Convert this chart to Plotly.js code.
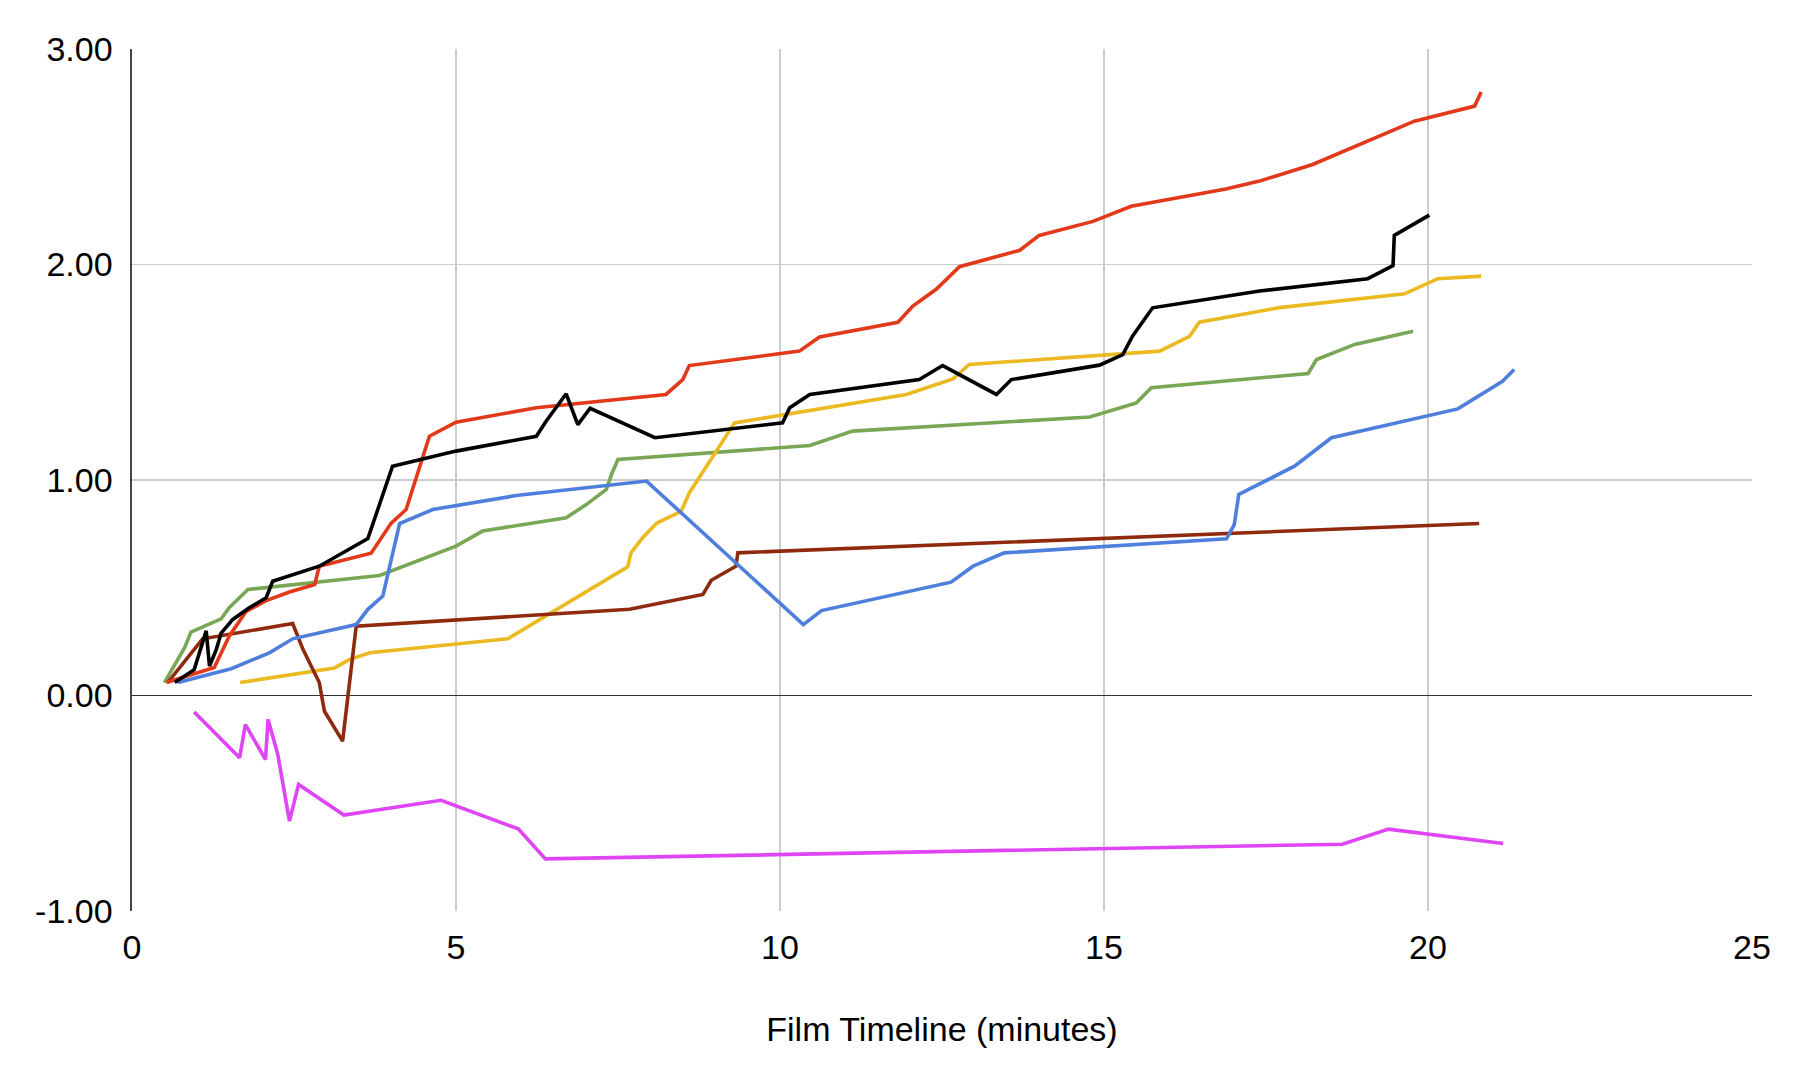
<!DOCTYPE html>
<html>
<head>
<meta charset="utf-8">
<script src="https://cdn.plot.ly/plotly-3.0.1.min.js"></script>
<style>html,body{margin:0;padding:0;background:#fff;}#chart{width:1801px;height:1075px;}</style>
</head>
<body>
<div id="chart"></div>
<script>
// Series values (x = minutes, y = value)
const greenX = [0.50,0.81,0.91,1.376,1.50,1.79,3.82,5.0,5.41,6.70,7.01,7.32,7.40,7.50,10.46,11.12,14.78,15.50,15.73,18.15,18.28,18.87,19.77];
const greenY = [0.06,0.221,0.294,0.356,0.407,0.492,0.557,0.693,0.763,0.825,0.886,0.956,1.026,1.095,1.16,1.227,1.292,1.358,1.428,1.494,1.559,1.629,1.69];

const yellowX = [1.67,3.125,3.36,3.67,5.80,7.65,7.70,7.88,8.10,8.475,8.60,9.30,11.95,12.67,12.92,15.86,16.32,16.47,17.71,19.64,20.15,20.82];
const yellowY = [0.06,0.128,0.167,0.198,0.263,0.597,0.662,0.732,0.80,0.855,0.94,1.265,1.397,1.469,1.536,1.598,1.667,1.732,1.80,1.864,1.934,1.946];

const brownX = [0.55,1.09,2.48,2.64,2.89,2.97,3.25,3.46,7.68,8.81,8.94,9.32,9.35,20.79];
const brownY = [0.06,0.263,0.334,0.213,0.06,-0.073,-0.212,0.322,0.40,0.469,0.535,0.60,0.662,0.798];

const blueX = [0.71,1.53,2.12,2.48,3.46,3.64,3.87,4.13,4.64,5.93,7.94,10.36,10.64,12.64,12.98,13.46,16.89,17.01,17.08,17.94,18.51,20.46,21.15,21.33];
const blueY = [0.06,0.124,0.198,0.263,0.329,0.40,0.461,0.798,0.863,0.928,0.995,0.329,0.394,0.526,0.60,0.662,0.727,0.793,0.933,1.064,1.196,1.33,1.458,1.513];

const redX = [0.53,1.27,1.50,1.76,2.07,2.43,2.82,2.89,3.69,4.0,4.23,4.59,5.0,6.24,8.24,8.50,8.60,10.30,10.61,11.82,12.05,12.41,12.77,13.70,14.0,14.83,15.42,16.88,17.40,18.22,19.79,20.72,20.82];
const redY = [0.06,0.13,0.275,0.39,0.44,0.48,0.515,0.60,0.66,0.80,0.863,1.203,1.268,1.335,1.397,1.466,1.531,1.598,1.664,1.732,1.807,1.885,1.99,2.066,2.135,2.20,2.27,2.35,2.387,2.464,2.665,2.735,2.80];

const blackX = [0.66,0.96,1.145,1.196,1.30,1.376,1.556,1.81,2.07,2.17,2.89,3.20,3.64,4.02,5.0,6.24,6.39,6.70,6.88,7.07,8.07,10.04,10.15,10.46,12.15,12.51,13.34,13.57,14.93,15.29,15.44,15.75,17.40,19.07,19.46,19.48,20.02];
const blackY = [0.06,0.12,0.30,0.136,0.213,0.29,0.353,0.407,0.453,0.53,0.60,0.654,0.728,1.064,1.134,1.203,1.273,1.40,1.257,1.333,1.196,1.265,1.335,1.397,1.466,1.531,1.397,1.466,1.533,1.582,1.667,1.799,1.877,1.934,1.995,2.135,2.229];

const magentaX = [0.96,1.66,1.75,2.06,2.10,2.25,2.43,2.57,3.27,4.77,5.96,6.38,18.68,19.39,21.16];
const magentaY = [-0.077,-0.289,-0.135,-0.297,-0.111,-0.274,-0.583,-0.413,-0.555,-0.486,-0.619,-0.758,-0.69,-0.62,-0.687];

const xTicks = [0,5,10,15,20,25];
const yTicks = [-1,0,1,2,3];
const xTitle = 'Film Timeline (minutes)';

const series = [
  {x: greenX, y: greenY, color: '#79a755'},
  {x: yellowX, y: yellowY, color: '#ebb920'},
  {x: brownX, y: brownY, color: '#8f2a0f'},
  {x: blueX, y: blueY, color: '#4f7fdc'},
  {x: redX, y: redY, color: '#e1391a'},
  {x: blackX, y: blackY, color: '#000000'},
  {x: magentaX, y: magentaY, color: '#df44f5'}
];

const traces = series.map(s => ({
  type: 'scatter', mode: 'lines', x: s.x, y: s.y,
  line: {color: s.color, width: 3.6},
  hoverinfo: 'skip'
}));

const font = {family: '"Liberation Sans", Arial, sans-serif', size: 34, color: '#000'};

const layout = {
  width: 1801, height: 1075,
  margin: {l: 132, r: 49, t: 49, b: 164, pad: 0},
  paper_bgcolor: '#fff', plot_bgcolor: '#fff',
  showlegend: false,
  font: font,
  xaxis: {
    range: [0, 25], tickvals: xTicks, ticktext: xTicks.map(String),
    showgrid: true, gridcolor: '#cccccc', gridwidth: 1.8,
    zeroline: false, showline: false, ticks: '',
    ticklabelstandoff: 13,
    tickfont: font, automargin: false,
    title: {text: xTitle, font: {family: font.family, size: 34, color: '#000'}, standoff: 52}
  },
  yaxis: {
    range: [-1, 3], tickvals: yTicks, ticktext: yTicks.map(v => v.toFixed(2)),
    showgrid: true, gridcolor: '#cccccc', gridwidth: 1.8,
    zeroline: true, zerolinecolor: '#333333', zerolinewidth: 1.6,
    showline: true, linecolor: '#444444', linewidth: 1.6,
    ticks: '', ticklabelstandoff: 11,
    tickfont: font, automargin: false
  }
};

Plotly.newPlot('chart', traces, layout, {displayModeBar: false, staticPlot: true});
</script>
</body>
</html>
